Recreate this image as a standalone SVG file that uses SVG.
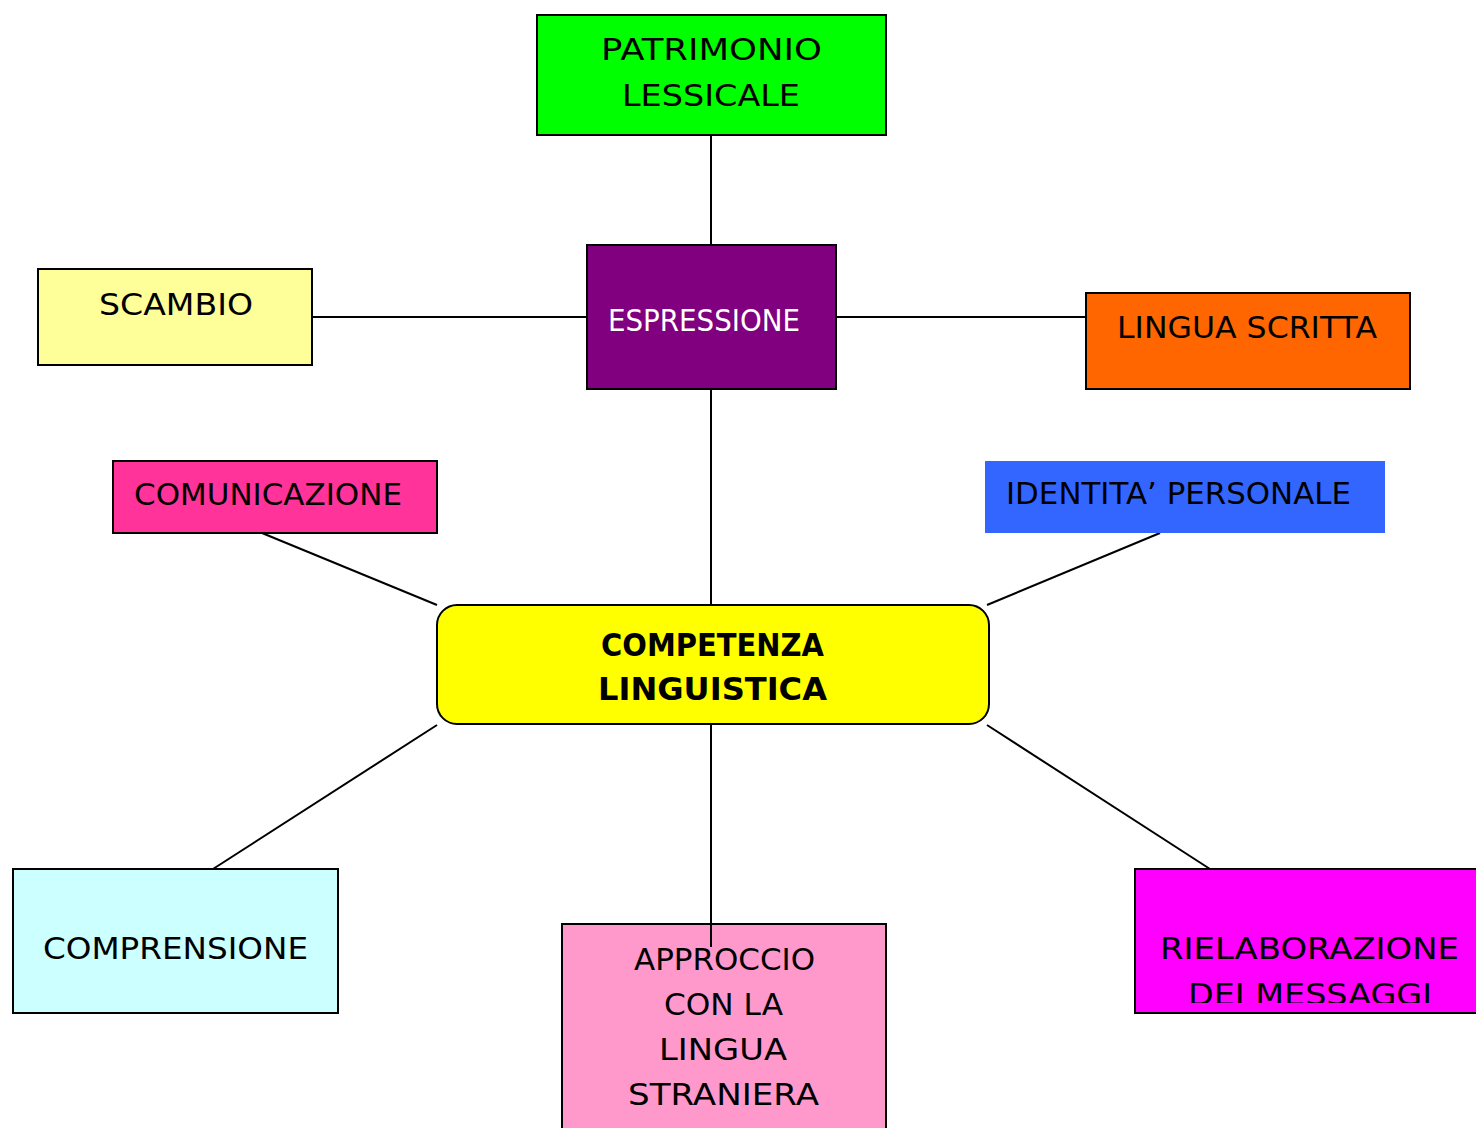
<svg xmlns="http://www.w3.org/2000/svg" width="1476" height="1128" viewBox="0 0 1476 1128">
<style>
.box{stroke:#000;stroke-width:2}
.t{font-family:"DejaVu Sans","Liberation Sans",sans-serif;font-size:30px;fill:#000;text-anchor:start}
.w{fill:#fff}
.b{font-weight:bold;font-size:32px}
.c line{stroke:#000;stroke-width:2}
</style>
<defs>
<clipPath id="rclip"><rect x="1135" y="869" width="345" height="134"/></clipPath>
</defs>
<rect width="1476" height="1128" fill="#fff"/>
<g class="c" id="connectors">
<line x1="711" y1="135" x2="711" y2="245"/>
<line x1="312" y1="317" x2="587" y2="317"/>
<line x1="836" y1="317" x2="1086" y2="317"/>
<line x1="711" y1="389" x2="711" y2="605"/>
<line x1="262" y1="533" x2="437" y2="605"/>
<line x1="1160" y1="533" x2="987" y2="605"/>
<line x1="437" y1="725" x2="213" y2="869"/>
<line x1="987" y1="725" x2="1210" y2="869"/>
</g>
<g id="patrimonio">
<rect class="box" x="537" y="15" width="349" height="120" fill="#00ff00"/>
<text class="t" x="601" y="60" textLength="221" lengthAdjust="spacingAndGlyphs">PATRIMONIO</text>
<text class="t" x="622" y="106" textLength="178" lengthAdjust="spacingAndGlyphs">LESSICALE</text>
</g>
<g id="espressione">
<rect class="box" x="587" y="245" width="249" height="144" fill="#800080"/>
<text class="t w" x="608" y="331" textLength="192" lengthAdjust="spacingAndGlyphs">ESPRESSIONE</text>
</g>
<g id="scambio">
<rect class="box" x="38" y="269" width="274" height="96" fill="#ffff99"/>
<text class="t" x="99" y="315" textLength="154" lengthAdjust="spacingAndGlyphs">SCAMBIO</text>
</g>
<g id="lingua-scritta">
<rect class="box" x="1086" y="293" width="324" height="96" fill="#ff6600"/>
<text class="t" x="1117" y="338" textLength="260" lengthAdjust="spacingAndGlyphs">LINGUA SCRITTA</text>
</g>
<g id="comunicazione">
<rect class="box" x="113" y="461" width="324" height="72" fill="#ff3399"/>
<text class="t" x="134" y="505" textLength="268" lengthAdjust="spacingAndGlyphs">COMUNICAZIONE</text>
</g>
<g id="identita">
<rect x="985" y="461" width="400" height="72" fill="#3366ff"/>
<text class="t" x="1006" y="504" textLength="345" lengthAdjust="spacingAndGlyphs">IDENTITA’ PERSONALE</text>
</g>
<g id="competenza">
<rect class="box" x="437" y="605" width="552" height="119" rx="20" fill="#ffff00"/>
<text class="t b" x="601" y="656" textLength="223" lengthAdjust="spacingAndGlyphs">COMPETENZA</text>
<text class="t b" x="598" y="700" textLength="229" lengthAdjust="spacingAndGlyphs">LINGUISTICA</text>
</g>
<g id="comprensione">
<rect class="box" x="13" y="869" width="325" height="144" fill="#ccffff"/>
<text class="t" x="43" y="959" textLength="265" lengthAdjust="spacingAndGlyphs">COMPRENSIONE</text>
</g>
<g id="approccio">
<rect class="box" x="562" y="924" width="324" height="210" fill="#ff99cc"/>
<text class="t" x="634" y="970" textLength="181" lengthAdjust="spacingAndGlyphs">APPROCCIO</text>
<text class="t" x="664" y="1015" textLength="119" lengthAdjust="spacingAndGlyphs">CON LA</text>
<text class="t" x="659" y="1060" textLength="128" lengthAdjust="spacingAndGlyphs">LINGUA</text>
<text class="t" x="628" y="1105" textLength="191" lengthAdjust="spacingAndGlyphs">STRANIERA</text>
</g>
<g id="rielaborazione">
<rect class="box" x="1135" y="869" width="350" height="144" fill="#ff00ff"/>
<text class="t" x="1160" y="959" textLength="299" lengthAdjust="spacingAndGlyphs">RIELABORAZIONE</text>
<text class="t" x="1188" y="1005" textLength="244" lengthAdjust="spacingAndGlyphs" clip-path="url(#rclip)">DEI MESSAGGI</text>
</g>
<g class="c" id="connectors-over">
<line x1="711" y1="725" x2="711" y2="947"/>
</g>
</svg>
